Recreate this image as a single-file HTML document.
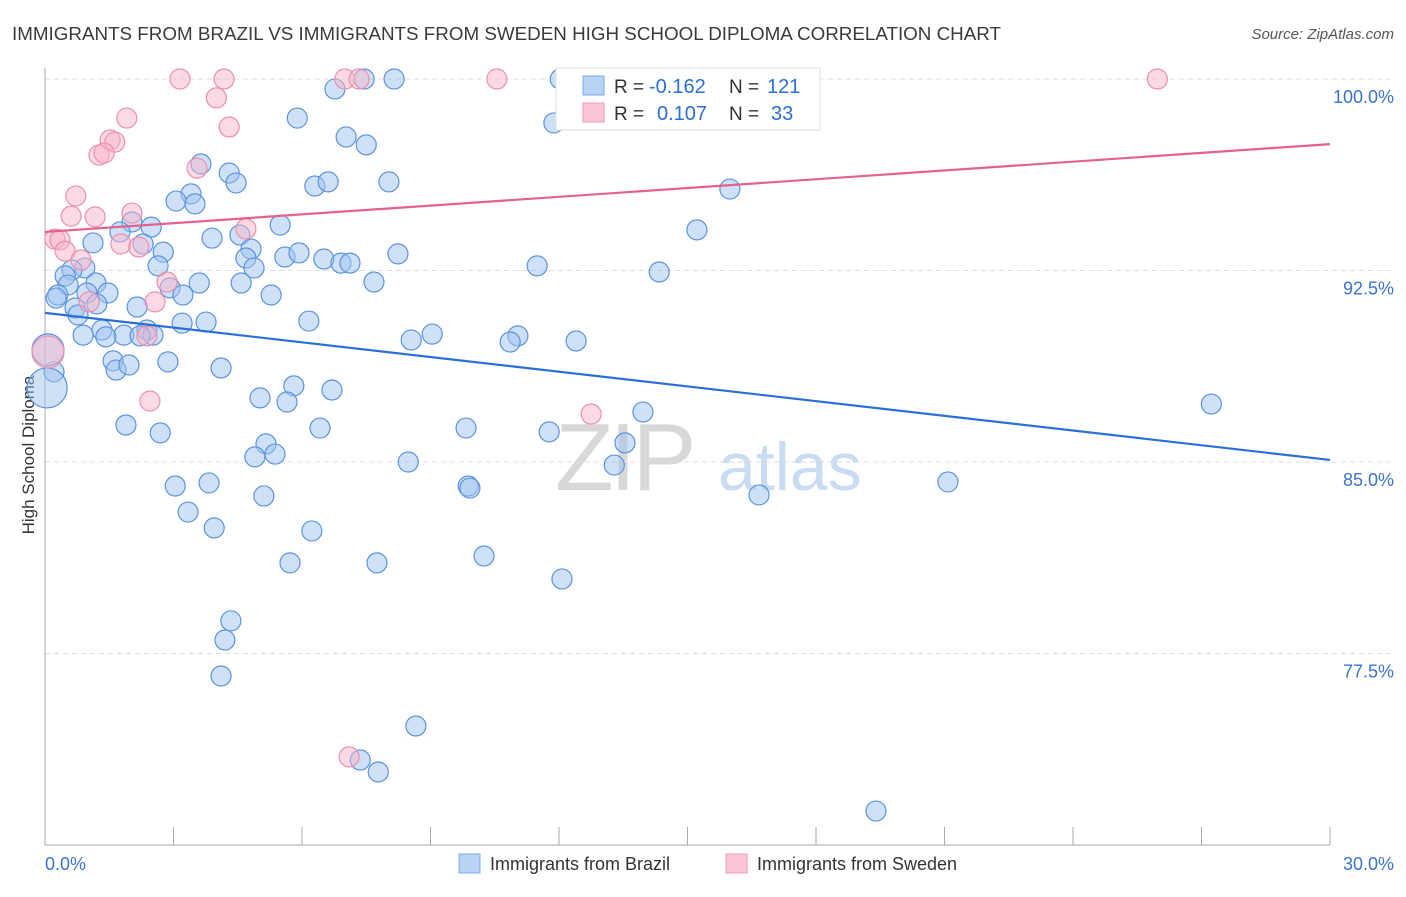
<!DOCTYPE html>
<html><head><meta charset="utf-8"><style>
body{margin:0;background:#fff;font-family:"Liberation Sans",sans-serif;}
svg text{font-family:"Liberation Sans",sans-serif;}
</style></head><body>
<svg id="chart" width="1406" height="892" xmlns="http://www.w3.org/2000/svg">
<text x="12" y="40" font-size="18" fill="#3a3a3a" textLength="989" lengthAdjust="spacingAndGlyphs">IMMIGRANTS FROM BRAZIL VS IMMIGRANTS FROM SWEDEN HIGH SCHOOL DIPLOMA CORRELATION CHART</text>
<text x="1394" y="39" font-size="15" fill="#555" font-style="italic" text-anchor="end">Source: ZipAtlas.com</text>
<text transform="translate(34,455) rotate(-90)" font-size="17" fill="#333" text-anchor="middle">High School Diploma</text>
<g>
<text x="555" y="490" font-size="96" fill="#d8d8d8" font-family="Liberation Serif" letter-spacing="-4">ZIP</text>
<text x="718" y="490" font-size="68" fill="#c9dcf3">atlas</text>
</g>
<g id="grid"></g><g id="axes"></g><g id="pts"></g><g id="trends"></g>
<g>
<rect x="556" y="68" width="264" height="62" fill="#fff" stroke="#ddd"/>
<rect x="583" y="76" width="21" height="19" fill="#b9d3f5" stroke="#7ba9e6"/>
<rect x="583" y="103" width="21" height="19" fill="#fbc6d6" stroke="#ef9ab4"/>
<text x="614" y="93" font-size="19" fill="#333">R =</text>
<text x="649" y="93" font-size="20" fill="#2b6fd6">-0.162</text>
<text x="729" y="93" font-size="19" fill="#333">N =</text>
<text x="767" y="93" font-size="20" fill="#2b6fd6">121</text>
<text x="614" y="120" font-size="19" fill="#333">R =</text>
<text x="657" y="120" font-size="20" fill="#2b6fd6">0.107</text>
<text x="729" y="120" font-size="19" fill="#333">N =</text>
<text x="771" y="120" font-size="20" fill="#2b6fd6">33</text>
</g>
<g>
<rect x="459" y="854" width="21" height="19" fill="#b9d3f5" stroke="#7ba9e6"/>
<text x="490" y="870" font-size="18" fill="#333">Immigrants from Brazil</text>
<rect x="726" y="854" width="21" height="19" fill="#fbc6d6" stroke="#ef9ab4"/>
<text x="757" y="870" font-size="18" fill="#333">Immigrants from Sweden</text>
</g>
</svg>
<script>
const blueX=[12.03,7.45,8.15,16.23,6.77,5.89,11.88,7.03,7.50,3.64,4.30,4.46,6.30,6.61,8.03,15.99,3.41,3.06,3.50,5.49,2.48,2.03,1.75,4.55,3.90,15.22,1.12,2.29,2.76,4.81,4.69,5.60,5.93,8.24,6.51,6.91,7.12,4.88,2.64,11.49,14.34,0.93,0.63,0.47,0.54,1.19,4.58,3.60,7.68,2.92,3.22,5.28,1.47,0.98,0.30,0.26,0.70,1.21,2.15,0.77,3.20,3.76,6.16,1.33,2.38,1.84,2.52,2.22,0.89,1.42,9.04,8.55,11.04,10.86,12.40,1.59,2.87,1.66,1.96,4.11,0.21,0.05,0.07,5.81,6.70,5.02,5.65,13.96,27.23,1.89,6.42,9.83,11.77,2.69,5.16,13.54,4.90,5.37,8.48,13.29,21.08,3.04,3.83,9.88,9.92,5.11,16.67,3.34,3.95,6.23,10.25,5.72,7.75,12.07,4.34,4.20,4.11,8.66,7.36,7.78,19.40];
const blueY=[100,100,100,100,99.61,98.47,98.28,97.73,97.42,96.67,96.32,95.93,95.81,95.97,95.97,95.69,95.50,95.22,95.11,94.28,94.20,94.40,94.01,93.89,93.77,94.09,93.58,93.54,93.22,93.34,92.99,93.03,93.19,93.15,92.95,92.79,92.79,92.60,92.68,92.68,92.44,92.60,92.52,92.29,91.93,92.01,92.01,92.01,92.05,91.82,91.54,91.54,91.62,91.62,91.54,91.42,91.03,91.19,91.07,90.76,90.44,90.48,90.52,90.17,90.17,89.97,89.97,89.94,89.97,89.90,90.01,89.78,89.94,89.70,89.74,88.96,88.92,88.60,88.80,88.68,88.53,87.90,89.39,87.98,87.82,87.51,87.35,86.96,87.27,86.45,86.33,86.33,86.18,86.14,85.71,85.75,85.20,85.31,85.00,84.88,84.22,84.06,84.18,84.06,83.98,83.67,83.71,83.04,82.42,82.30,81.32,81.05,81.05,80.42,78.78,78.03,76.62,74.66,73.33,72.86,71.33];
const pinkX=[3.15,4.18,7.00,7.33,10.55,25.97,4.00,1.91,4.30,1.52,1.63,1.26,1.38,3.55,0.72,0.61,1.17,2.03,4.69,0.23,0.35,1.77,2.19,0.47,0.84,2.85,1.03,2.57,2.38,0.07,2.45,12.75,7.10];
const pinkY=[100,100,100,100,100,100,99.26,98.47,98.12,97.61,97.53,97.02,97.10,96.51,95.42,94.63,94.60,94.75,94.13,93.73,93.70,93.54,93.42,93.26,92.91,92.05,91.27,91.27,89.94,89.31,87.39,86.88,73.45];
const blueTrend=[90.84,85.08];
const pinkTrend=[94.01,97.45];
const yTicks=[100,92.5,85,77.5];
const yTickLabels=["100.0%","92.5%","85.0%","77.5%"];
const xTicks=[0,3,6,9,12,15,18,21,24,27,30];
const xTickLabels=["0.0%","30.0%"];
const NS="http://www.w3.org/2000/svg";
const xs=v=>45+v/30*1285;
const ys=v=>79+(100-v)/7.5*191.5;
function mk(tag,attrs,parent){const e=document.createElementNS(NS,tag);for(const k in attrs)e.setAttribute(k,attrs[k]);document.getElementById(parent).appendChild(e);return e;}
yTicks.forEach((t,i)=>{
 const g=mk('line',{x1:45,x2:1394,y1:ys(t),y2:ys(t),stroke:'#ddd','stroke-dasharray':'5,4'},'grid');
 
 
 const l=mk('text',{x:1394,y:ys(t)+24,'font-size':18,fill:'#3b73cf','text-anchor':'end'},'grid');
 l.textContent=yTickLabels[i];
 
 
});
const ya=mk('line',{x1:45,x2:45,y1:68,y2:845,stroke:'#aaa'},'axes');


const xa=mk('line',{x1:45,x2:1330,y1:845,y2:845,stroke:'#aaa'},'axes');


xTicks.forEach(t=>{
 const k=mk('line',{x1:xs(t),x2:xs(t),y1:827,y2:845,stroke:'#aaa'},'axes');
 
 
});
[[0,'start',45],[30,'end',1394]].forEach((d,i)=>{
 const l=mk('text',{x:d[2],y:870,'font-size':18,fill:'#3b73cf','text-anchor':d[1]},'axes');
 l.textContent=xTickLabels[i];
 
 
});
function rad(x,y){return (x<0.1)?(y<88.5?20:16):10;}
blueX.forEach((x,i)=>{
 const c=mk('circle',{cx:xs(x),cy:ys(blueY[i]),r:rad(x,blueY[i]),fill:'rgba(160,196,240,0.5)',stroke:'#5b93e0','stroke-width':1.2},'pts');
 
 
});
pinkX.forEach((x,i)=>{
 const c=mk('circle',{cx:xs(x),cy:ys(pinkY[i]),r:(x<0.1?16:10),fill:'rgba(248,182,202,0.5)',stroke:'#ec8fac','stroke-width':1.2},'pts');
 
 
});
const bt=mk('line',{x1:xs(0),y1:ys(blueTrend[0]),x2:xs(30),y2:ys(blueTrend[1]),stroke:'#2a6fd8','stroke-width':2.2},'trends');


const pt=mk('line',{x1:xs(0),y1:ys(pinkTrend[0]),x2:xs(30),y2:ys(pinkTrend[1]),stroke:'#e4618d','stroke-width':2.2},'trends');


</script>
</body></html>
